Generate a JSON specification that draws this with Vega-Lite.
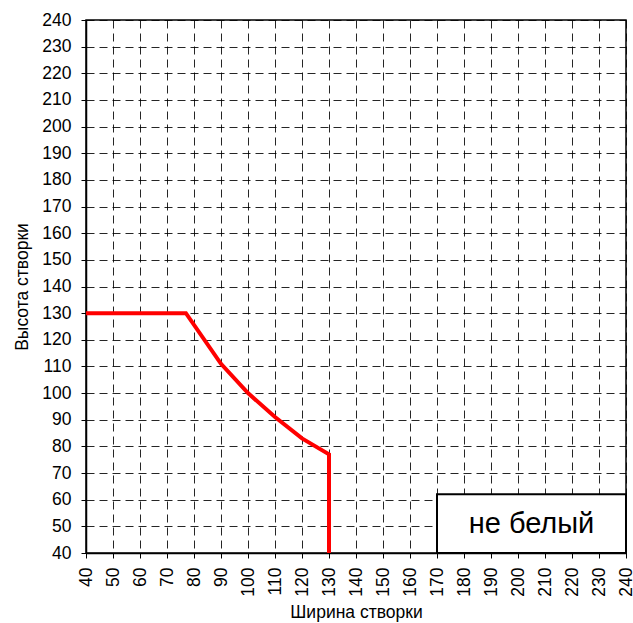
{
  "$schema": "https://vega.github.io/schema/vega-lite/v6.json",
  "autosize": "none",
  "width": 540,
  "height": 533,
  "padding": {"left": 86, "top": 20, "right": 7, "bottom": 70},
  "background": "white",
  "config": {
    "view": {"stroke": "black", "strokeWidth": 1.5}
  },
  "datasets": {
    "curve": [
      {"w": 40, "h": 130},
      {"w": 77, "h": 130},
      {"w": 90, "h": 111},
      {"w": 100, "h": 100},
      {"w": 110, "h": 91},
      {"w": 120, "h": 83},
      {"w": 130, "h": 77},
      {"w": 130, "h": 40}
    ],
    "box": [
      {"w": 170, "w2": 240, "h": 40, "h2": 62}
    ],
    "label": [
      {"w": 205, "h": 51, "label": "не белый"}
    ]
  },
  "encoding": {
    "x": {
      "field": "w", "type": "quantitative",
      "scale": {"domain": [40, 240], "nice": false, "zero": false},
      "axis": {
        "title": "Ширина створки",
        "values": [40,50,60,70,80,90,100,110,120,130,140,150,160,170,180,190,200,210,220,230,240],
        "labelAngle": -90,
        "labelPadding": 9,
        "titlePadding": 7,
        "labelFontSize": 17.5,
        "labelColor": "black",
        "titleFontSize": 17.5,
        "titleFontWeight": "normal",
        "titleColor": "black",
        "domainColor": "black",
        "domainWidth": 1.5,
        "tickColor": "black",
        "tickSize": 5,
        "gridColor": "black",
        "gridDash": [8, 5],
        "gridWidth": 1,
        "gridOpacity": 0.85
      }
    },
    "y": {
      "field": "h", "type": "quantitative",
      "scale": {"domain": [40, 240], "nice": false, "zero": false},
      "axis": {
        "title": "Высота створки",
        "values": [40,50,60,70,80,90,100,110,120,130,140,150,160,170,180,190,200,210,220,230,240],
        "labelPadding": 10,
        "titlePadding": 10,
        "labelFontSize": 17.5,
        "labelColor": "black",
        "titleFontSize": 17.5,
        "titleFontWeight": "normal",
        "titleColor": "black",
        "domainColor": "black",
        "domainWidth": 1.5,
        "tickColor": "black",
        "tickSize": 5,
        "gridColor": "black",
        "gridDash": [8, 5],
        "gridWidth": 1,
        "gridOpacity": 0.85
      }
    }
  },
  "layer": [
    {
      "data": {"name": "curve"},
      "mark": {"type": "line", "color": "#ff0000", "strokeWidth": 4, "clip": true}
    },
    {
      "data": {"name": "box"},
      "mark": {"type": "rect", "fill": "white", "stroke": "black", "strokeWidth": 2},
      "encoding": {
        "x2": {"field": "w2"},
        "y2": {"field": "h2"}
      }
    },
    {
      "data": {"name": "label"},
      "mark": {"type": "text", "fontSize": 29, "color": "black", "align": "center", "baseline": "middle"},
      "encoding": {
        "text": {"field": "label"}
      }
    }
  ]
}
